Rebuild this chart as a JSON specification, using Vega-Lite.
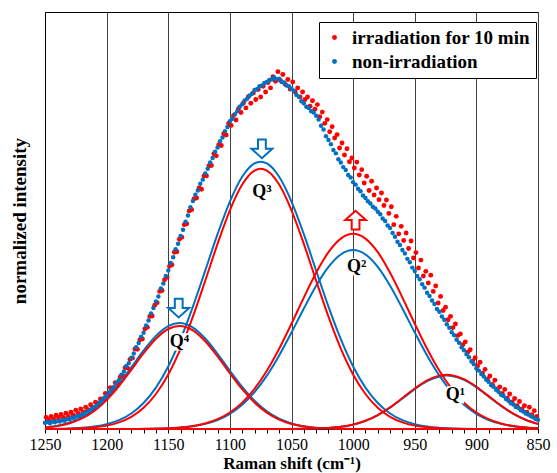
{
"$schema": "https://vega.github.io/schema/vega-lite/v6.json",
"width": 493, "height": 417,
"autosize": {"type": "none"},
"padding": {"left": 45, "top": 12, "right": 19, "bottom": 44},
"background": "white",
"config": {
  "view": {"stroke": "black", "strokeWidth": 1},
  "font": "Liberation Serif",
  "legend": {"orient": "none", "legendX": 274, "legendY": 10, "fillColor": "white", "strokeColor": "black", "padding": 6, "labelFontSize": 19, "labelFontWeight": "bold", "labelFont": "Liberation Serif", "labelColor": "black", "labelLimit": 400, "symbolSize": 24, "symbolType": "circle", "rowPadding": 4, "labelOffset": 8, "symbolStrokeWidth": 0}
},
"datasets": {
"blue": [{"x":1250,"y":0.015},{"x":1248,"y":0.017},{"x":1246,"y":0.014},{"x":1244,"y":0.018},{"x":1242,"y":0.016},{"x":1240,"y":0.019},{"x":1238,"y":0.018},{"x":1236,"y":0.021},{"x":1234,"y":0.020},{"x":1232,"y":0.024},{"x":1230,"y":0.023},{"x":1228,"y":0.027},{"x":1226,"y":0.027},{"x":1224,"y":0.031},{"x":1222,"y":0.031},{"x":1220,"y":0.035},{"x":1218,"y":0.036},{"x":1216,"y":0.042},{"x":1214,"y":0.043},{"x":1212,"y":0.048},{"x":1210,"y":0.053},{"x":1208,"y":0.056},{"x":1206,"y":0.063},{"x":1204,"y":0.067},{"x":1202,"y":0.075},{"x":1200,"y":0.079},{"x":1198,"y":0.088},{"x":1196,"y":0.095},{"x":1194,"y":0.101},{"x":1192,"y":0.111},{"x":1190,"y":0.117},{"x":1188,"y":0.130},{"x":1186,"y":0.138},{"x":1184,"y":0.151},{"x":1182,"y":0.158},{"x":1180,"y":0.171},{"x":1178,"y":0.181},{"x":1176,"y":0.196},{"x":1174,"y":0.206},{"x":1172,"y":0.221},{"x":1170,"y":0.231},{"x":1168,"y":0.248},{"x":1166,"y":0.260},{"x":1164,"y":0.277},{"x":1162,"y":0.290},{"x":1160,"y":0.306},{"x":1158,"y":0.318},{"x":1156,"y":0.337},{"x":1154,"y":0.349},{"x":1152,"y":0.367},{"x":1150,"y":0.380},{"x":1148,"y":0.398},{"x":1146,"y":0.412},{"x":1144,"y":0.431},{"x":1142,"y":0.444},{"x":1140,"y":0.463},{"x":1138,"y":0.478},{"x":1136,"y":0.497},{"x":1134,"y":0.512},{"x":1132,"y":0.532},{"x":1130,"y":0.547},{"x":1128,"y":0.562},{"x":1126,"y":0.572},{"x":1124,"y":0.588},{"x":1122,"y":0.598},{"x":1120,"y":0.613},{"x":1118,"y":0.624},{"x":1116,"y":0.639},{"x":1114,"y":0.650},{"x":1112,"y":0.665},{"x":1110,"y":0.675},{"x":1108,"y":0.690},{"x":1106,"y":0.699},{"x":1104,"y":0.714},{"x":1102,"y":0.724},{"x":1100,"y":0.738},{"x":1098,"y":0.744},{"x":1096,"y":0.755},{"x":1094,"y":0.762},{"x":1092,"y":0.773},{"x":1090,"y":0.779},{"x":1088,"y":0.788},{"x":1086,"y":0.792},{"x":1084,"y":0.800},{"x":1082,"y":0.804},{"x":1080,"y":0.813},{"x":1078,"y":0.815},{"x":1076,"y":0.822},{"x":1074,"y":0.824},{"x":1072,"y":0.830},{"x":1070,"y":0.832},{"x":1068,"y":0.837},{"x":1066,"y":0.838},{"x":1064,"y":0.843},{"x":1062,"y":0.839},{"x":1060,"y":0.840},{"x":1058,"y":0.832},{"x":1056,"y":0.831},{"x":1054,"y":0.824},{"x":1052,"y":0.822},{"x":1050,"y":0.816},{"x":1048,"y":0.811},{"x":1046,"y":0.801},{"x":1044,"y":0.797},{"x":1042,"y":0.786},{"x":1040,"y":0.781},{"x":1038,"y":0.773},{"x":1036,"y":0.770},{"x":1034,"y":0.762},{"x":1032,"y":0.759},{"x":1030,"y":0.751},{"x":1028,"y":0.742},{"x":1026,"y":0.727},{"x":1024,"y":0.718},{"x":1022,"y":0.702},{"x":1020,"y":0.693},{"x":1018,"y":0.683},{"x":1016,"y":0.669},{"x":1014,"y":0.661},{"x":1012,"y":0.647},{"x":1010,"y":0.639},{"x":1008,"y":0.628},{"x":1006,"y":0.621},{"x":1004,"y":0.609},{"x":1002,"y":0.603},{"x":1000,"y":0.592},{"x":998,"y":0.586},{"x":996,"y":0.576},{"x":994,"y":0.570},{"x":992,"y":0.560},{"x":990,"y":0.554},{"x":988,"y":0.546},{"x":986,"y":0.541},{"x":984,"y":0.533},{"x":982,"y":0.529},{"x":980,"y":0.521},{"x":978,"y":0.515},{"x":976,"y":0.505},{"x":974,"y":0.499},{"x":972,"y":0.488},{"x":970,"y":0.482},{"x":968,"y":0.470},{"x":966,"y":0.461},{"x":964,"y":0.449},{"x":962,"y":0.441},{"x":960,"y":0.429},{"x":958,"y":0.421},{"x":956,"y":0.408},{"x":954,"y":0.400},{"x":952,"y":0.387},{"x":950,"y":0.379},{"x":948,"y":0.367},{"x":946,"y":0.359},{"x":944,"y":0.347},{"x":942,"y":0.339},{"x":940,"y":0.327},{"x":938,"y":0.319},{"x":936,"y":0.308},{"x":934,"y":0.300},{"x":932,"y":0.288},{"x":930,"y":0.281},{"x":928,"y":0.270},{"x":926,"y":0.262},{"x":924,"y":0.251},{"x":922,"y":0.243},{"x":920,"y":0.232},{"x":918,"y":0.225},{"x":916,"y":0.214},{"x":914,"y":0.207},{"x":912,"y":0.196},{"x":910,"y":0.189},{"x":908,"y":0.179},{"x":906,"y":0.172},{"x":904,"y":0.162},{"x":902,"y":0.155},{"x":900,"y":0.145},{"x":898,"y":0.140},{"x":896,"y":0.132},{"x":894,"y":0.126},{"x":892,"y":0.118},{"x":890,"y":0.113},{"x":888,"y":0.105},{"x":886,"y":0.101},{"x":884,"y":0.094},{"x":882,"y":0.089},{"x":880,"y":0.082},{"x":878,"y":0.079},{"x":876,"y":0.072},{"x":874,"y":0.068},{"x":872,"y":0.062},{"x":870,"y":0.059},{"x":868,"y":0.053},{"x":866,"y":0.051},{"x":864,"y":0.045},{"x":862,"y":0.042},{"x":860,"y":0.037},{"x":858,"y":0.035},{"x":856,"y":0.031},{"x":854,"y":0.028},{"x":852,"y":0.024},{"x":850,"y":0.022}],
"red": [{"x":1249,"y":0.028},{"x":1247,"y":0.021},{"x":1245,"y":0.030},{"x":1243,"y":0.024},{"x":1241,"y":0.033},{"x":1239,"y":0.027},{"x":1237,"y":0.035},{"x":1235,"y":0.028},{"x":1233,"y":0.038},{"x":1231,"y":0.030},{"x":1229,"y":0.040},{"x":1227,"y":0.033},{"x":1225,"y":0.045},{"x":1223,"y":0.037},{"x":1221,"y":0.048},{"x":1219,"y":0.041},{"x":1217,"y":0.052},{"x":1215,"y":0.046},{"x":1213,"y":0.058},{"x":1211,"y":0.051},{"x":1209,"y":0.064},{"x":1207,"y":0.060},{"x":1205,"y":0.072},{"x":1203,"y":0.068},{"x":1201,"y":0.085},{"x":1199,"y":0.082},{"x":1197,"y":0.099},{"x":1195,"y":0.094},{"x":1193,"y":0.111},{"x":1191,"y":0.108},{"x":1189,"y":0.125},{"x":1187,"y":0.128},{"x":1185,"y":0.147},{"x":1183,"y":0.146},{"x":1181,"y":0.167},{"x":1179,"y":0.170},{"x":1177,"y":0.192},{"x":1175,"y":0.191},{"x":1173,"y":0.214},{"x":1171,"y":0.216},{"x":1169,"y":0.240},{"x":1167,"y":0.244},{"x":1165,"y":0.270},{"x":1163,"y":0.271},{"x":1161,"y":0.297},{"x":1159,"y":0.303},{"x":1157,"y":0.330},{"x":1155,"y":0.332},{"x":1153,"y":0.358},{"x":1151,"y":0.364},{"x":1149,"y":0.390},{"x":1147,"y":0.394},{"x":1145,"y":0.424},{"x":1143,"y":0.425},{"x":1141,"y":0.455},{"x":1139,"y":0.460},{"x":1137,"y":0.490},{"x":1135,"y":0.492},{"x":1133,"y":0.523},{"x":1131,"y":0.526},{"x":1129,"y":0.552},{"x":1127,"y":0.554},{"x":1125,"y":0.578},{"x":1123,"y":0.575},{"x":1121,"y":0.607},{"x":1119,"y":0.607},{"x":1117,"y":0.631},{"x":1115,"y":0.632},{"x":1113,"y":0.660},{"x":1111,"y":0.655},{"x":1109,"y":0.682},{"x":1107,"y":0.680},{"x":1105,"y":0.708},{"x":1103,"y":0.705},{"x":1101,"y":0.733},{"x":1099,"y":0.728},{"x":1097,"y":0.752},{"x":1095,"y":0.741},{"x":1093,"y":0.768},{"x":1091,"y":0.759},{"x":1089,"y":0.782},{"x":1087,"y":0.770},{"x":1085,"y":0.797},{"x":1083,"y":0.781},{"x":1081,"y":0.806},{"x":1079,"y":0.790},{"x":1077,"y":0.814},{"x":1075,"y":0.796},{"x":1073,"y":0.822},{"x":1071,"y":0.808},{"x":1069,"y":0.831},{"x":1067,"y":0.818},{"x":1065,"y":0.845},{"x":1063,"y":0.834},{"x":1061,"y":0.857},{"x":1059,"y":0.836},{"x":1057,"y":0.850},{"x":1055,"y":0.826},{"x":1053,"y":0.838},{"x":1051,"y":0.815},{"x":1049,"y":0.832},{"x":1047,"y":0.808},{"x":1045,"y":0.818},{"x":1043,"y":0.796},{"x":1041,"y":0.808},{"x":1039,"y":0.790},{"x":1037,"y":0.796},{"x":1035,"y":0.774},{"x":1033,"y":0.787},{"x":1031,"y":0.767},{"x":1029,"y":0.778},{"x":1027,"y":0.749},{"x":1025,"y":0.760},{"x":1023,"y":0.733},{"x":1021,"y":0.742},{"x":1019,"y":0.713},{"x":1017,"y":0.725},{"x":1015,"y":0.698},{"x":1013,"y":0.706},{"x":1011,"y":0.674},{"x":1009,"y":0.686},{"x":1007,"y":0.657},{"x":1005,"y":0.672},{"x":1003,"y":0.641},{"x":1001,"y":0.650},{"x":999,"y":0.626},{"x":997,"y":0.640},{"x":995,"y":0.609},{"x":993,"y":0.622},{"x":991,"y":0.590},{"x":989,"y":0.606},{"x":987,"y":0.572},{"x":985,"y":0.594},{"x":983,"y":0.561},{"x":981,"y":0.578},{"x":979,"y":0.550},{"x":977,"y":0.566},{"x":975,"y":0.536},{"x":973,"y":0.549},{"x":971,"y":0.517},{"x":969,"y":0.533},{"x":967,"y":0.490},{"x":965,"y":0.510},{"x":963,"y":0.468},{"x":961,"y":0.486},{"x":959,"y":0.452},{"x":957,"y":0.470},{"x":955,"y":0.433},{"x":953,"y":0.451},{"x":951,"y":0.410},{"x":949,"y":0.423},{"x":947,"y":0.386},{"x":945,"y":0.405},{"x":943,"y":0.367},{"x":941,"y":0.378},{"x":939,"y":0.350},{"x":937,"y":0.369},{"x":935,"y":0.330},{"x":933,"y":0.343},{"x":931,"y":0.302},{"x":929,"y":0.318},{"x":927,"y":0.284},{"x":925,"y":0.292},{"x":923,"y":0.262},{"x":921,"y":0.270},{"x":919,"y":0.243},{"x":917,"y":0.252},{"x":915,"y":0.224},{"x":913,"y":0.228},{"x":911,"y":0.202},{"x":909,"y":0.209},{"x":907,"y":0.184},{"x":905,"y":0.190},{"x":903,"y":0.163},{"x":901,"y":0.171},{"x":899,"y":0.151},{"x":897,"y":0.160},{"x":895,"y":0.134},{"x":893,"y":0.143},{"x":891,"y":0.120},{"x":889,"y":0.127},{"x":887,"y":0.107},{"x":885,"y":0.117},{"x":883,"y":0.096},{"x":881,"y":0.101},{"x":879,"y":0.085},{"x":877,"y":0.095},{"x":875,"y":0.074},{"x":873,"y":0.084},{"x":871,"y":0.065},{"x":869,"y":0.073},{"x":867,"y":0.056},{"x":865,"y":0.066},{"x":863,"y":0.048},{"x":861,"y":0.056},{"x":859,"y":0.040},{"x":857,"y":0.052},{"x":855,"y":0.034},{"x":853,"y":0.044},{"x":851,"y":0.030}],
"fits": [
{"s":"r","c":"Q4","x":1250,"y":0.0032},{"s":"r","c":"Q4","x":1240,"y":0.0069},{"s":"r","c":"Q4","x":1230,"y":0.0137},{"s":"r","c":"Q4","x":1220,"y":0.0253},{"s":"r","c":"Q4","x":1210,"y":0.0434},{"s":"r","c":"Q4","x":1200,"y":0.0693},{"s":"r","c":"Q4","x":1190,"y":0.1028},{"s":"r","c":"Q4","x":1180,"y":0.1417},{"s":"r","c":"Q4","x":1170,"y":0.1817},{"s":"r","c":"Q4","x":1160,"y":0.2165},{"s":"r","c":"Q4","x":1150,"y":0.2398},{"s":"r","c":"Q4","x":1141,"y":0.247},{"s":"r","c":"Q4","x":1130,"y":0.2363},{"s":"r","c":"Q4","x":1120,"y":0.2103},{"s":"r","c":"Q4","x":1110,"y":0.1739},{"s":"r","c":"Q4","x":1100,"y":0.1337},{"s":"r","c":"Q4","x":1090,"y":0.0955},{"s":"r","c":"Q4","x":1080,"y":0.0635},{"s":"r","c":"Q4","x":1070,"y":0.0392},{"s":"r","c":"Q4","x":1060,"y":0.0225},{"s":"r","c":"Q4","x":1050,"y":0.0120},{"s":"r","c":"Q4","x":1040,"y":0.0060},{"s":"r","c":"Q4","x":1030,"y":0.0027},{"s":"r","c":"Q4","x":1020,"y":0.0012},{"s":"r","c":"Q4","x":1000,"y":0.0002},{"s":"r","c":"Q4","x":950,"y":0},{"s":"r","c":"Q4","x":850,"y":0},
{"s":"b","c":"Q4","x":1250,"y":0.0037},{"s":"b","c":"Q4","x":1240,"y":0.0078},{"s":"b","c":"Q4","x":1230,"y":0.0152},{"s":"b","c":"Q4","x":1220,"y":0.0276},{"s":"b","c":"Q4","x":1210,"y":0.0467},{"s":"b","c":"Q4","x":1200,"y":0.0737},{"s":"b","c":"Q4","x":1190,"y":0.1082},{"s":"b","c":"Q4","x":1180,"y":0.1479},{"s":"b","c":"Q4","x":1170,"y":0.1883},{"s":"b","c":"Q4","x":1160,"y":0.2234},{"s":"b","c":"Q4","x":1150,"y":0.2468},{"s":"b","c":"Q4","x":1141,"y":0.254},{"s":"b","c":"Q4","x":1130,"y":0.2433},{"s":"b","c":"Q4","x":1120,"y":0.2171},{"s":"b","c":"Q4","x":1110,"y":0.1805},{"s":"b","c":"Q4","x":1100,"y":0.1397},{"s":"b","c":"Q4","x":1090,"y":0.1007},{"s":"b","c":"Q4","x":1080,"y":0.0676},{"s":"b","c":"Q4","x":1070,"y":0.0423},{"s":"b","c":"Q4","x":1060,"y":0.0246},{"s":"b","c":"Q4","x":1050,"y":0.0134},{"s":"b","c":"Q4","x":1040,"y":0.0068},{"s":"b","c":"Q4","x":1030,"y":0.0032},{"s":"b","c":"Q4","x":1020,"y":0.0014},{"s":"b","c":"Q4","x":1000,"y":0.0003},{"s":"b","c":"Q4","x":950,"y":0},{"s":"b","c":"Q4","x":850,"y":0},
{"s":"r","c":"Q3","x":1250,"y":0.0001},{"s":"r","c":"Q3","x":1230,"y":0.0008},{"s":"r","c":"Q3","x":1220,"y":0.0018},{"s":"r","c":"Q3","x":1210,"y":0.0040},{"s":"r","c":"Q3","x":1200,"y":0.0081},{"s":"r","c":"Q3","x":1190,"y":0.0158},{"s":"r","c":"Q3","x":1180,"y":0.0292},{"s":"r","c":"Q3","x":1170,"y":0.0509},{"s":"r","c":"Q3","x":1160,"y":0.0839},{"s":"r","c":"Q3","x":1150,"y":0.1308},{"s":"r","c":"Q3","x":1140,"y":0.1930},{"s":"r","c":"Q3","x":1130,"y":0.2693},{"s":"r","c":"Q3","x":1120,"y":0.3556},{"s":"r","c":"Q3","x":1110,"y":0.4440},{"s":"r","c":"Q3","x":1100,"y":0.5245},{"s":"r","c":"Q3","x":1090,"y":0.5862},{"s":"r","c":"Q3","x":1080,"y":0.6197},{"s":"r","c":"Q3","x":1075,"y":0.624},{"s":"r","c":"Q3","x":1070,"y":0.6197},{"s":"r","c":"Q3","x":1060,"y":0.5862},{"s":"r","c":"Q3","x":1050,"y":0.5245},{"s":"r","c":"Q3","x":1040,"y":0.4440},{"s":"r","c":"Q3","x":1030,"y":0.3556},{"s":"r","c":"Q3","x":1020,"y":0.2693},{"s":"r","c":"Q3","x":1010,"y":0.1930},{"s":"r","c":"Q3","x":1000,"y":0.1308},{"s":"r","c":"Q3","x":990,"y":0.0839},{"s":"r","c":"Q3","x":980,"y":0.0509},{"s":"r","c":"Q3","x":970,"y":0.0292},{"s":"r","c":"Q3","x":960,"y":0.0158},{"s":"r","c":"Q3","x":950,"y":0.0081},{"s":"r","c":"Q3","x":940,"y":0.0040},{"s":"r","c":"Q3","x":930,"y":0.0018},{"s":"r","c":"Q3","x":920,"y":0.0008},{"s":"r","c":"Q3","x":900,"y":0.0001},{"s":"r","c":"Q3","x":850,"y":0},
{"s":"b","c":"Q3","x":1250,"y":0.0002},{"s":"b","c":"Q3","x":1230,"y":0.0013},{"s":"b","c":"Q3","x":1220,"y":0.0028},{"s":"b","c":"Q3","x":1210,"y":0.0058},{"s":"b","c":"Q3","x":1200,"y":0.0113},{"s":"b","c":"Q3","x":1190,"y":0.0211},{"s":"b","c":"Q3","x":1180,"y":0.0372},{"s":"b","c":"Q3","x":1170,"y":0.0623},{"s":"b","c":"Q3","x":1160,"y":0.0992},{"s":"b","c":"Q3","x":1150,"y":0.1499},{"s":"b","c":"Q3","x":1140,"y":0.2153},{"s":"b","c":"Q3","x":1130,"y":0.2935},{"s":"b","c":"Q3","x":1120,"y":0.3799},{"s":"b","c":"Q3","x":1110,"y":0.4672},{"s":"b","c":"Q3","x":1100,"y":0.5454},{"s":"b","c":"Q3","x":1090,"y":0.6048},{"s":"b","c":"Q3","x":1080,"y":0.6369},{"s":"b","c":"Q3","x":1075,"y":0.641},{"s":"b","c":"Q3","x":1070,"y":0.6369},{"s":"b","c":"Q3","x":1060,"y":0.6048},{"s":"b","c":"Q3","x":1050,"y":0.5454},{"s":"b","c":"Q3","x":1040,"y":0.4672},{"s":"b","c":"Q3","x":1030,"y":0.3799},{"s":"b","c":"Q3","x":1020,"y":0.2935},{"s":"b","c":"Q3","x":1010,"y":0.2153},{"s":"b","c":"Q3","x":1000,"y":0.1499},{"s":"b","c":"Q3","x":990,"y":0.0992},{"s":"b","c":"Q3","x":980,"y":0.0623},{"s":"b","c":"Q3","x":970,"y":0.0372},{"s":"b","c":"Q3","x":960,"y":0.0211},{"s":"b","c":"Q3","x":950,"y":0.0113},{"s":"b","c":"Q3","x":940,"y":0.0058},{"s":"b","c":"Q3","x":930,"y":0.0028},{"s":"b","c":"Q3","x":920,"y":0.0013},{"s":"b","c":"Q3","x":900,"y":0.0002},{"s":"b","c":"Q3","x":850,"y":0},
{"s":"r","c":"Q2","x":1250,"y":0},{"s":"r","c":"Q2","x":1180,"y":0.0002},{"s":"r","c":"Q2","x":1170,"y":0.0004},{"s":"r","c":"Q2","x":1150,"y":0.0018},{"s":"r","c":"Q2","x":1140,"y":0.0037},{"s":"r","c":"Q2","x":1130,"y":0.0072},{"s":"r","c":"Q2","x":1120,"y":0.0134},{"s":"r","c":"Q2","x":1110,"y":0.0236},{"s":"r","c":"Q2","x":1100,"y":0.0396},{"s":"r","c":"Q2","x":1090,"y":0.0633},{"s":"r","c":"Q2","x":1080,"y":0.0964},{"s":"r","c":"Q2","x":1070,"y":0.1396},{"s":"r","c":"Q2","x":1060,"y":0.1924},{"s":"r","c":"Q2","x":1050,"y":0.2524},{"s":"r","c":"Q2","x":1040,"y":0.3152},{"s":"r","c":"Q2","x":1030,"y":0.3747},{"s":"r","c":"Q2","x":1020,"y":0.4240},{"s":"r","c":"Q2","x":1010,"y":0.4566},{"s":"r","c":"Q2","x":1000,"y":0.468},{"s":"r","c":"Q2","x":990,"y":0.4566},{"s":"r","c":"Q2","x":980,"y":0.4240},{"s":"r","c":"Q2","x":970,"y":0.3747},{"s":"r","c":"Q2","x":960,"y":0.3152},{"s":"r","c":"Q2","x":950,"y":0.2524},{"s":"r","c":"Q2","x":940,"y":0.1924},{"s":"r","c":"Q2","x":930,"y":0.1396},{"s":"r","c":"Q2","x":920,"y":0.0964},{"s":"r","c":"Q2","x":910,"y":0.0633},{"s":"r","c":"Q2","x":900,"y":0.0396},{"s":"r","c":"Q2","x":890,"y":0.0236},{"s":"r","c":"Q2","x":880,"y":0.0134},{"s":"r","c":"Q2","x":870,"y":0.0072},{"s":"r","c":"Q2","x":860,"y":0.0037},{"s":"r","c":"Q2","x":850,"y":0.0018},
{"s":"b","c":"Q2","x":1250,"y":0},{"s":"b","c":"Q2","x":1180,"y":0.0001},{"s":"b","c":"Q2","x":1170,"y":0.0003},{"s":"b","c":"Q2","x":1150,"y":0.0017},{"s":"b","c":"Q2","x":1140,"y":0.0034},{"s":"b","c":"Q2","x":1130,"y":0.0066},{"s":"b","c":"Q2","x":1120,"y":0.0123},{"s":"b","c":"Q2","x":1110,"y":0.0216},{"s":"b","c":"Q2","x":1100,"y":0.0363},{"s":"b","c":"Q2","x":1090,"y":0.0580},{"s":"b","c":"Q2","x":1080,"y":0.0883},{"s":"b","c":"Q2","x":1070,"y":0.1279},{"s":"b","c":"Q2","x":1060,"y":0.1764},{"s":"b","c":"Q2","x":1050,"y":0.2314},{"s":"b","c":"Q2","x":1040,"y":0.2890},{"s":"b","c":"Q2","x":1030,"y":0.3435},{"s":"b","c":"Q2","x":1020,"y":0.3887},{"s":"b","c":"Q2","x":1010,"y":0.4185},{"s":"b","c":"Q2","x":1000,"y":0.429},{"s":"b","c":"Q2","x":990,"y":0.4185},{"s":"b","c":"Q2","x":980,"y":0.3887},{"s":"b","c":"Q2","x":970,"y":0.3435},{"s":"b","c":"Q2","x":960,"y":0.2890},{"s":"b","c":"Q2","x":950,"y":0.2314},{"s":"b","c":"Q2","x":940,"y":0.1764},{"s":"b","c":"Q2","x":930,"y":0.1279},{"s":"b","c":"Q2","x":920,"y":0.0883},{"s":"b","c":"Q2","x":910,"y":0.0580},{"s":"b","c":"Q2","x":900,"y":0.0363},{"s":"b","c":"Q2","x":890,"y":0.0216},{"s":"b","c":"Q2","x":880,"y":0.0123},{"s":"b","c":"Q2","x":870,"y":0.0066},{"s":"b","c":"Q2","x":860,"y":0.0034},{"s":"b","c":"Q2","x":850,"y":0.0017},
{"s":"r","c":"Q1","x":1250,"y":0},{"s":"r","c":"Q1","x":1050,"y":0.0001},{"s":"r","c":"Q1","x":1030,"y":0.0010},{"s":"r","c":"Q1","x":1020,"y":0.0024},{"s":"r","c":"Q1","x":1010,"y":0.0053},{"s":"r","c":"Q1","x":1000,"y":0.0107},{"s":"r","c":"Q1","x":990,"y":0.0198},{"s":"r","c":"Q1","x":980,"y":0.0335},{"s":"r","c":"Q1","x":970,"y":0.0521},{"s":"r","c":"Q1","x":960,"y":0.0742},{"s":"r","c":"Q1","x":950,"y":0.0970},{"s":"r","c":"Q1","x":940,"y":0.1164},{"s":"r","c":"Q1","x":930,"y":0.128},{"s":"r","c":"Q1","x":924,"y":0.130},{"s":"r","c":"Q1","x":920,"y":0.1291},{"s":"r","c":"Q1","x":910,"y":0.1194},{"s":"r","c":"Q1","x":900,"y":0.1013},{"s":"r","c":"Q1","x":890,"y":0.0788},{"s":"r","c":"Q1","x":880,"y":0.0563},{"s":"r","c":"Q1","x":870,"y":0.0368},{"s":"r","c":"Q1","x":860,"y":0.0221},{"s":"r","c":"Q1","x":850,"y":0.0122},
{"s":"b","c":"Q1","x":1250,"y":0},{"s":"b","c":"Q1","x":1050,"y":0.0001},{"s":"b","c":"Q1","x":1030,"y":0.0010},{"s":"b","c":"Q1","x":1020,"y":0.0024},{"s":"b","c":"Q1","x":1010,"y":0.0052},{"s":"b","c":"Q1","x":1000,"y":0.0105},{"s":"b","c":"Q1","x":990,"y":0.0195},{"s":"b","c":"Q1","x":980,"y":0.0330},{"s":"b","c":"Q1","x":970,"y":0.0513},{"s":"b","c":"Q1","x":960,"y":0.0731},{"s":"b","c":"Q1","x":950,"y":0.0955},{"s":"b","c":"Q1","x":940,"y":0.1146},{"s":"b","c":"Q1","x":930,"y":0.1260},{"s":"b","c":"Q1","x":924,"y":0.128},{"s":"b","c":"Q1","x":920,"y":0.1271},{"s":"b","c":"Q1","x":910,"y":0.1176},{"s":"b","c":"Q1","x":900,"y":0.0998},{"s":"b","c":"Q1","x":890,"y":0.0776},{"s":"b","c":"Q1","x":880,"y":0.0554},{"s":"b","c":"Q1","x":870,"y":0.0362},{"s":"b","c":"Q1","x":860,"y":0.0218},{"s":"b","c":"Q1","x":850,"y":0.0120}
],
"labels": [{"x":1074,"y":0.569,"t":"Q³"},{"x":997,"y":0.389,"t":"Q²"},{"x":1141,"y":0.209,"t":"Q⁴"},{"x":917,"y":0.082,"t":"Q¹"}]
},
"encoding": {
  "x": {"field": "x", "type": "quantitative",
    "scale": {"domain": [850, 1250], "reverse": true, "nice": false, "zero": false},
    "axis": {"title": "Raman shift (cm⁻¹)", "values": [850,860,870,880,890,900,910,920,930,940,950,960,970,980,990,1000,1010,1020,1030,1040,1050,1060,1070,1080,1090,1100,1110,1120,1130,1140,1150,1160,1170,1180,1190,1200,1210,1220,1230,1240,1250],
      "format": "d", "labelExpr": "datum.value % 50 == 0 ? datum.label : ''",
      "grid": true, "gridColor": "#404040", "gridWidth": 1,
      "gridOpacity": {"condition": {"test": "datum.value % 50 == 0", "value": 1}, "value": 0},
      "tickSize": 4, "tickColor": "black", "domainColor": "black",
      "labelFont": "Liberation Serif", "labelFontSize": 16, "labelColor": "black", "labelPadding": 3,
      "labelOverlap": false, "labelFlush": false, "labelBound": false,
      "titleFont": "Liberation Serif", "titleFontSize": 17, "titleFontWeight": "bold", "titleColor": "black", "titlePadding": 3}},
  "y": {"field": "y", "type": "quantitative",
    "scale": {"domain": [0, 1], "nice": false},
    "axis": {"title": "normalized intensity", "labels": false, "ticks": false, "grid": false, "domainColor": "black",
      "titleFont": "Liberation Serif", "titleFontSize": 19, "titleFontWeight": "bold", "titleColor": "black", "titlePadding": 16}}
},
"layer": [
  {"data": {"name": "fits"}, "transform": [{"filter": {"field": "s", "equal": "b"}}],
   "mark": {"type": "line", "interpolate": "monotone", "color": "#0070C0", "strokeWidth": 2},
   "encoding": {"detail": {"field": "c"}}},
  {"data": {"name": "fits"}, "transform": [{"filter": {"field": "s", "equal": "r"}}],
   "mark": {"type": "line", "interpolate": "monotone", "color": "#FF0000", "strokeWidth": 2},
   "encoding": {"detail": {"field": "c"}}},
  {"data": {"name": "red"},
   "mark": {"type": "circle", "size": 24, "opacity": 1},
   "encoding": {"color": {"datum": "irradiation for 10 min", "type": "nominal",
      "scale": {"domain": ["irradiation for 10 min", "non-irradiation"], "range": ["#FF0000", "#0070C0"]},
      "legend": {"title": null}}}},
  {"data": {"name": "blue"},
   "mark": {"type": "circle", "size": 20, "opacity": 1},
   "encoding": {"color": {"datum": "non-irradiation", "type": "nominal"}}},
  {"data": {"name": "labels"},
   "mark": {"type": "point", "shape": "square", "filled": true, "color": "white", "opacity": 1, "size": 300}},
  {"data": {"name": "labels"},
   "mark": {"type": "text", "font": "Liberation Serif", "fontSize": 18, "fontWeight": "bold", "color": "black", "align": "center", "baseline": "middle"},
   "encoding": {"text": {"field": "t"}}},
  {"data": {"values": [{"x":1074,"y":0.672},{"x":1141.5,"y":0.290}]},
   "mark": {"type": "point", "shape": "M-0.3,-0.72L0.3,-0.72L0.3,0L0.8,0L0,0.72L-0.8,0L-0.3,0Z", "size": 676, "filled": false, "fill": "white", "fillOpacity": 1, "stroke": "#0070C0", "strokeWidth": 2, "opacity": 1}},
  {"data": {"values": [{"x":998,"y":0.501}]},
   "mark": {"type": "point", "shape": "M-0.3,0.72L0.3,0.72L0.3,0L0.8,0L0,-0.72L-0.8,0L-0.3,0Z", "size": 676, "filled": false, "fill": "white", "fillOpacity": 1, "stroke": "#FF0000", "strokeWidth": 2, "opacity": 1}}
]
}
